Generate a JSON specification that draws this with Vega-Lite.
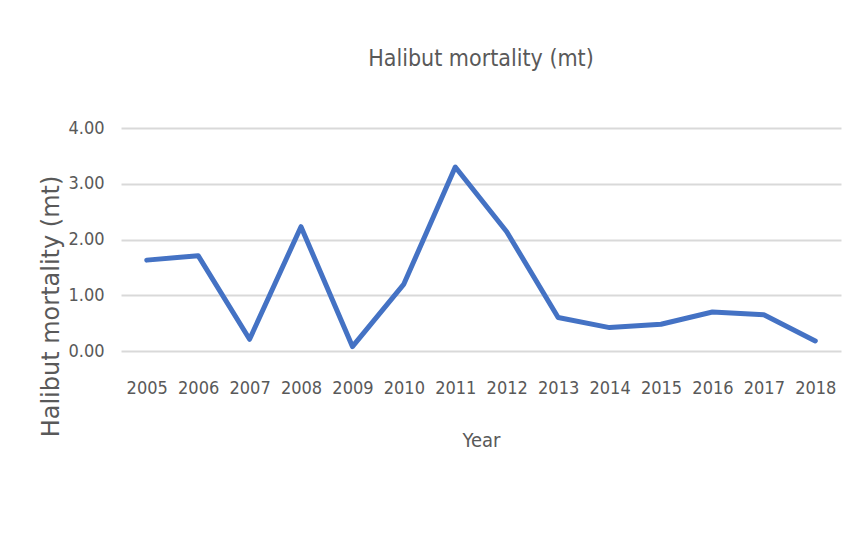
{
  "$schema": "https://vega.github.io/schema/vega-lite/v6.json",
  "autosize": "none",
  "width": 720,
  "height": 223,
  "padding": {"left": 121, "top": 128, "right": 13, "bottom": 187},
  "background": "white",
  "title": {
    "text": "Halibut mortality (mt)",
    "frame": "group",
    "anchor": "middle",
    "baseline": "bottom",
    "offset": 25,
    "font": "DejaVu Sans Condensed, sans-serif",
    "fontSize": 23,
    "fontWeight": "normal",
    "color": "#595959"
  },
  "config": {
    "view": {"stroke": null},
    "axis": {
      "labelFont": "DejaVu Sans Condensed, sans-serif",
      "titleFont": "DejaVu Sans Condensed, sans-serif",
      "labelColor": "#595959",
      "titleColor": "#595959",
      "labelFontSize": 18,
      "titleFontSize": 20,
      "titleFontWeight": "normal",
      "domain": false,
      "ticks": false
    }
  },
  "data": {
    "values": [
      {"year": "2005", "mortality": 1.63},
      {"year": "2006", "mortality": 1.71},
      {"year": "2007", "mortality": 0.21},
      {"year": "2008", "mortality": 2.23},
      {"year": "2009", "mortality": 0.08},
      {"year": "2010", "mortality": 1.20},
      {"year": "2011", "mortality": 3.30},
      {"year": "2012", "mortality": 2.14},
      {"year": "2013", "mortality": 0.60},
      {"year": "2014", "mortality": 0.42},
      {"year": "2015", "mortality": 0.48},
      {"year": "2016", "mortality": 0.70},
      {"year": "2017", "mortality": 0.65},
      {"year": "2018", "mortality": 0.18}
    ]
  },
  "mark": {"type": "line", "color": "#4472C4", "strokeWidth": 5, "strokeJoin": "round", "strokeCap": "round"},
  "encoding": {
    "x": {
      "field": "year",
      "type": "ordinal",
      "scale": {"padding": 0.5},
      "axis": {
        "title": "Year",
        "labelAngle": 0,
        "labelPadding": 28,
        "titlePadding": 33,
        "grid": false
      }
    },
    "y": {
      "field": "mortality",
      "type": "quantitative",
      "scale": {"domain": [0, 4], "nice": false},
      "axis": {
        "title": "Halibut mortality (mt)",
        "titleFont": "DejaVu Sans, sans-serif",
        "titleFontSize": 24,
        "titleAngle": -90,
        "titleY": 178,
        "titleX": -58,
        "titleAlign": "center",
        "titleBaseline": "bottom",
        "values": [0, 1, 2, 3, 4],
        "format": ".2f",
        "labelPadding": 17,
        "grid": true,
        "gridColor": "#D9D9D9",
        "gridWidth": 2
      }
    }
  }
}
